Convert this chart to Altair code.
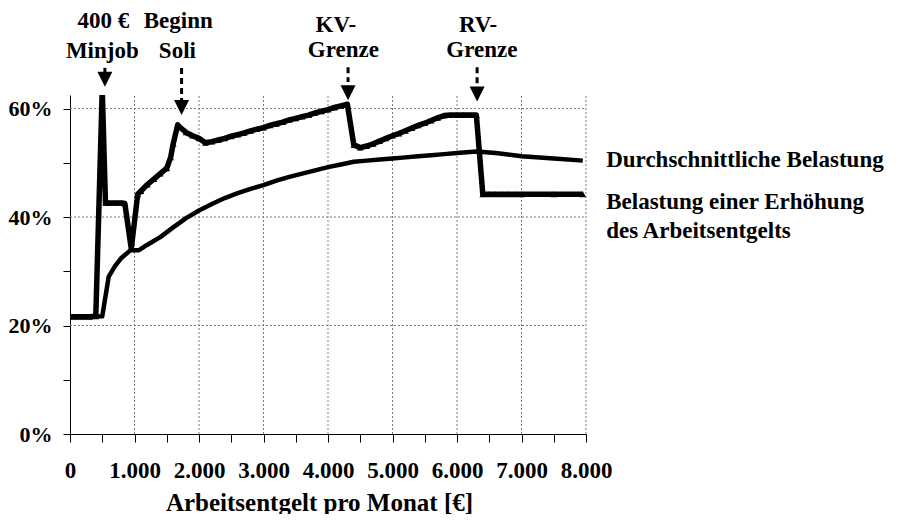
import altair as alt
import pandas as pd

FONT = "Liberation Serif"

# ---- data (income in EUR, burden in %) ----
inc_marg = [0, 100, 200, 300, 400, 500, 550, 600, 700, 800, 850, 950, 1050, 1100, 1200,
            1300, 1400, 1500, 1560, 1600, 1670, 1700, 1800, 1900, 2000, 2100, 2200, 2300,
            2400, 2500, 2600, 2700, 2800, 2900, 3000, 3100, 3200, 3300, 3400, 3500, 3600,
            3700, 3800, 3900, 4000, 4100, 4200, 4300, 4400, 4500, 4600, 4700, 4800, 4900,
            5000, 5100, 5200, 5300, 5400, 5500, 5600, 5700, 5800, 5900, 6000, 6100, 6200,
            6300, 6400, 6500, 6600, 6700, 6800, 6900, 7000, 7500, 7950]
val_marg = [21.6, 21.6, 21.6, 21.6, 21.7, 63.5, 42.6, 42.6, 42.6, 42.6, 42.5, 34.2, 44.2, 44.8, 46.0,
            47.0, 48.0, 49.0, 51.0, 53.5, 57.0, 56.6, 55.6, 55.0, 54.5, 53.7, 53.9, 54.2,
            54.5, 54.9, 55.2, 55.5, 55.9, 56.2, 56.5, 56.9, 57.2, 57.5, 57.9, 58.2, 58.5,
            58.8, 59.2, 59.5, 59.8, 60.2, 60.5, 60.8, 53.3, 52.8, 53.1, 53.5, 54.0, 54.5,
            55.0, 55.4, 55.9, 56.4, 56.9, 57.3, 57.8, 58.3, 58.7, 58.8, 58.8, 58.8, 58.8,
            58.8, 44.2, 44.2, 44.2, 44.2, 44.2, 44.2, 44.2, 44.2, 44.2]

inc_avg = [0, 500, 600, 700, 800, 940, 1070, 1200, 1400, 1600, 1800, 2000, 2200, 2400, 2600,
           2800, 3000, 3200, 3400, 3600, 3800, 4000, 4200, 4400, 4600, 4800, 5000, 5200,
           5400, 5600, 5800, 6000, 6300, 6600, 7000, 7500, 7950]
val_avg = [21.6, 21.7, 29.0, 31.0, 32.5, 33.9, 33.9, 34.9, 36.3, 38.1, 39.8, 41.2, 42.4, 43.5, 44.4,
           45.2, 45.9, 46.7, 47.4, 48.0, 48.6, 49.2, 49.7, 50.2, 50.4, 50.6, 50.8, 51.0,
           51.2, 51.4, 51.6, 51.8, 52.1, 51.8, 51.2, 50.8, 50.4]

x_ticks = list(range(0, 8001, 500))
y_ticks = [0, 10, 20, 30, 40, 50, 60]
grid_x = [1000, 2000, 3000, 4000, 5000, 6000, 7000, 8000]
grid_y = [20, 40, 60]

# annotations above the plot
ann_text = ["400 €", "Minjob", "Beginn", "Soli", "KV-", "Grenze", "RV-", "Grenze"]
ann_inc = [517, 501, 1678, 1665, 4121, 4238, 6327, 6385]
ann_val = [74.8, 69.4, 74.8, 69.4, 74.1, 69.5, 74.1, 69.5]

arrow_inc = [541, 1730, 4311, 6312]
arrow_top = [67.5, 67.5, 67.6, 67.6]
arrow_bot = [66.5, 61.6, 64.9, 64.0]
arrow_dashed = [False, True, True, True]
arrow_head = [65.4, 60.2, 62.9, 62.7]

lab_text = ["Durchschnittliche Belastung", "Belastung einer Erhöhung", "des Arbeitsentgelts"]
lab_inc = [8313, 8313, 8313]
lab_val = [49.3, 41.5, 36.2]

YMAX = 62.5
W, H = 516, 339

marg = pd.DataFrame({"inc": inc_marg, "val": val_marg})
avg = pd.DataFrame({"inc": inc_avg, "val": val_avg})
gx = pd.DataFrame({"inc": grid_x, "y0": [0] * len(grid_x), "y1": [YMAX] * len(grid_x)})
gy = pd.DataFrame({"val": grid_y, "x0": [0] * len(grid_y), "x1": [8000] * len(grid_y)})
ann = pd.DataFrame({"inc": ann_inc, "val": ann_val, "t": ann_text})
arr = pd.DataFrame({"inc": arrow_inc, "top": arrow_top, "bot": arrow_bot,
                    "dashed": arrow_dashed, "head": arrow_head})
labs = pd.DataFrame({"inc": lab_inc, "val": lab_val, "t": lab_text})

xs = alt.Scale(domain=[0, 8000], nice=False, zero=False)
ys = alt.Scale(domain=[0, YMAX], nice=False, zero=False)

x_axis = alt.Axis(
    values=x_ticks,
    labelExpr="datum.value % 1000 == 0 ? replace(format(datum.value, ','), ',', '.') : ''",
    grid=False, domainColor="black", domainWidth=1, tickColor="black", tickWidth=1,
    tickSize=8, labelFont=FONT, labelFontSize=23, labelFontWeight="bold",
    labelColor="black", labelPadding=17, labelFlush=False, labelOverlap=False,
    labelBound=False,
    title="Arbeitsentgelt pro Monat [€]", titleFont=FONT, titleFontSize=25,
    titleFontWeight="bold", titleColor="black", titleBaseline="alphabetic",
    titleY=76, titleX=249)
y_axis = alt.Axis(
    values=y_ticks,
    labelExpr="datum.value % 20 == 0 ? datum.value + '%' : ''",
    grid=False, domainColor="black", domainWidth=1, tickColor="black", tickWidth=1,
    tickSize=7, labelFont=FONT, labelFontSize=22, labelFontWeight="bold",
    labelColor="black", labelPadding=11, labelOverlap=False, labelFlush=False,
    labelBound=False, title=None)


def X(field):
    return alt.X(field, scale=xs, axis=x_axis)


def Y(field):
    return alt.Y(field, scale=ys, axis=y_axis)


vgrid = alt.Chart(gx).mark_rule(color="#7a7a7a", strokeDash=[2, 2], strokeWidth=1).encode(
    x=X("inc:Q"), y=Y("y0:Q"), y2="y1:Q")
hgrid = alt.Chart(gy).mark_rule(color="#7a7a7a", strokeDash=[2, 2], strokeWidth=1).encode(
    y=Y("val:Q"), x=X("x0:Q"), x2="x1:Q")

avg_line = alt.Chart(avg).mark_line(color="black", strokeWidth=4.5, clip=True,
                                    strokeJoin="round").encode(x=X("inc:Q"), y=Y("val:Q"))
marg_line = alt.Chart(marg).mark_line(color="black", strokeWidth=5.5, clip=True,
                                      strokeJoin="round").encode(x=X("inc:Q"), y=Y("val:Q"))
marg_pts = alt.Chart(marg).mark_point(shape="triangle-up", filled=True, color="black",
                                      size=45, opacity=1, clip=True).encode(
    x=X("inc:Q"), y=Y("val:Q"))

ann_txt = alt.Chart(ann).mark_text(font=FONT, fontSize=23, fontWeight="bold", color="black",
                                   align="center", baseline="alphabetic").encode(
    x=X("inc:Q"), y=Y("val:Q"), text="t:N")
shaft_solid = alt.Chart(arr[~arr["dashed"]]).mark_rule(color="black", strokeWidth=3).encode(
    x=X("inc:Q"), y=Y("top:Q"), y2="bot:Q")
shaft_dash = alt.Chart(arr[arr["dashed"]]).mark_rule(color="black", strokeWidth=3,
                                                    strokeDash=[6, 4]).encode(
    x=X("inc:Q"), y=Y("top:Q"), y2="bot:Q")
heads = alt.Chart(arr).mark_point(shape="M-1,-1L1,-1L0,1Z", filled=True, color="black",
                                  size=225, opacity=1, strokeWidth=0).encode(
    x=X("inc:Q"), y=Y("head:Q"))
lab_txt = alt.Chart(labs).mark_text(font=FONT, fontSize=23, fontWeight="bold", color="black",
                                    align="left", baseline="alphabetic").encode(
    x=X("inc:Q"), y=Y("val:Q"), text="t:N")

chart = alt.layer(vgrid, hgrid, avg_line, marg_line, marg_pts, ann_txt, shaft_solid,
                  shaft_dash, heads, lab_txt).properties(
    width=W, height=H,
    autosize=alt.AutoSizeParams(type="none"),
    padding={"left": 62, "top": 87, "right": 305, "bottom": 80},
    background="white",
).configure_view(stroke=None)

chart.save("out.html", embed_options={"renderer": "svg", "actions": False})
